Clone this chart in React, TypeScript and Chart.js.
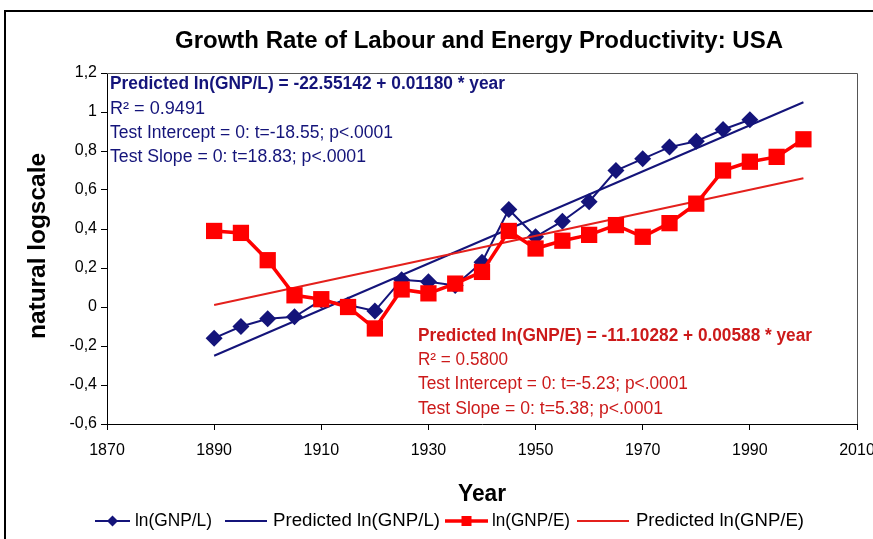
import React, { useEffect, useRef } from 'react';
import { Chart, registerables } from 'chart.js';

Chart.register(...registerables);

// ---- data ----
const laborYears = [1890, 1895, 1900, 1905, 1910, 1915, 1920, 1925, 1930, 1935, 1940, 1945, 1950, 1955, 1960, 1965, 1970, 1975, 1980, 1985, 1990];
const lnGnpL = [-0.16, -0.10, -0.06, -0.05, 0.035, 0.01, -0.02, 0.14, 0.13, 0.11, 0.23, 0.50, 0.36, 0.44, 0.54, 0.70, 0.76, 0.82, 0.85, 0.91, 0.96];
const energyYears = [1890, 1895, 1900, 1905, 1910, 1915, 1920, 1925, 1930, 1935, 1940, 1945, 1950, 1955, 1960, 1965, 1970, 1975, 1980, 1985, 1990, 1995, 2000];
const lnGnpE = [0.39, 0.38, 0.24, 0.06, 0.04, 0.0, -0.11, 0.09, 0.07, 0.12, 0.18, 0.39, 0.30, 0.34, 0.37, 0.42, 0.36, 0.43, 0.53, 0.70, 0.745, 0.77, 0.86];
const predYears = [1890, 2000];
const predL = [-0.25, 1.05];
const predE = [0.01, 0.66];

const seriesNames = ['ln(GNP/L)', 'Predicted ln(GNP/L)', 'ln(GNP/E)', 'Predicted ln(GNP/E)'];
const titleText = 'Growth Rate of Labour and Energy Productivity: USA';
const yTitle = 'natural logscale';
const xTitle = 'Year';
const blueNotes = [
  'Predicted ln(GNP/L) = -22.55142 + 0.01180 * year',
  'R² = 0.9491',
  'Test Intercept = 0: t=-18.55; p<.0001',
  'Test Slope = 0: t=18.83; p<.0001',
];
const redNotes = [
  'Predicted ln(GNP/E) = -11.10282 + 0.00588 * year',
  'R² = 0.5800',
  'Test Intercept = 0: t=-5.23; p<.0001',
  'Test Slope = 0: t=5.38; p<.0001',
];

const NAVY = '#14147a';
const RED = '#ff0000';
const RED_LINE = '#e4201c';
const RED_TEXT = '#cc1a1a';
const FONT = '"Liberation Sans", Arial, sans-serif';

function fillFit(ctx: CanvasRenderingContext2D, text: string, x: number, y: number, w: number, align: CanvasTextAlign) {
  const m = ctx.measureText(text).width;
  const s = m > 0 ? w / m : 1;
  ctx.save();
  ctx.translate(x, y);
  ctx.scale(s, 1);
  ctx.textAlign = align;
  ctx.fillText(text, 0, 0);
  ctx.restore();
}

const decorPlugin = {
  id: 'decor',
  afterDraw(chart: any) {
    const ctx: CanvasRenderingContext2D = chart.ctx;
    const a = chart.chartArea;
    ctx.save();
    // outer frame
    ctx.strokeStyle = '#000';
    ctx.lineWidth = 2;
    ctx.beginPath();
    ctx.moveTo(5, chart.height + 2);
    ctx.lineTo(5, 11);
    ctx.lineTo(chart.width + 2, 11);
    ctx.stroke();
    // plot box top/right
    ctx.strokeStyle = '#555';
    ctx.lineWidth = 1;
    ctx.beginPath();
    ctx.moveTo(a.left, a.top + 0.5);
    ctx.lineTo(a.right + 0.5, a.top + 0.5);
    ctx.lineTo(a.right + 0.5, a.bottom);
    ctx.stroke();

    ctx.textBaseline = 'middle';
    // title
    ctx.fillStyle = '#000';
    ctx.font = `bold 24px ${FONT}`;
    fillFit(ctx, titleText, 479, 41, 608, 'center');
    // axis titles
    ctx.font = `bold 23px ${FONT}`;
    fillFit(ctx, xTitle, 482, 495, 48, 'center');
    ctx.save();
    ctx.translate(39, 246);
    ctx.rotate(-Math.PI / 2);
    fillFit(ctx, yTitle, 0, 0, 186, 'center');
    ctx.restore();

    // annotations
    const blueW = [395, 95, 283, 256];
    const redW = [394, 90, 270, 245];
    const blueY = [84, 109, 133, 157];
    const redY = [336, 360, 384, 409];
    blueNotes.forEach((t, i) => {
      ctx.fillStyle = NAVY;
      ctx.font = i === 0 ? `bold 18px ${FONT}` : `18px ${FONT}`;
      fillFit(ctx, t, 110, blueY[i], blueW[i], 'left');
    });
    redNotes.forEach((t, i) => {
      ctx.fillStyle = RED_TEXT;
      ctx.font = i === 0 ? `bold 18px ${FONT}` : `18px ${FONT}`;
      fillFit(ctx, t, 418, redY[i], redW[i], 'left');
    });

    // legend
    const ly = 521;
    const items = [
      { l0: 95, l1: 130, tx: 135, tw: 77, color: NAVY, w: 2, marker: 'diamond' },
      { l0: 225, l1: 267, tx: 273, tw: 167, color: NAVY, w: 2, marker: '' },
      { l0: 445, l1: 488, tx: 492, tw: 78, color: RED, w: 3.5, marker: 'square' },
      { l0: 577, l1: 629, tx: 636, tw: 168, color: RED_LINE, w: 2, marker: '' },
    ];
    items.forEach((it, i) => {
      ctx.strokeStyle = it.color;
      ctx.lineWidth = it.w;
      ctx.beginPath();
      ctx.moveTo(it.l0, ly);
      ctx.lineTo(it.l1, ly);
      ctx.stroke();
      const cx = (it.l0 + it.l1) / 2;
      ctx.fillStyle = it.color;
      if (it.marker === 'diamond') {
        ctx.beginPath();
        ctx.moveTo(cx, ly - 5.5);
        ctx.lineTo(cx + 5.5, ly);
        ctx.lineTo(cx, ly + 5.5);
        ctx.lineTo(cx - 5.5, ly);
        ctx.closePath();
        ctx.fill();
      } else if (it.marker === 'square') {
        ctx.fillRect(cx - 5, ly - 5, 10, 10);
      }
      ctx.fillStyle = '#000';
      ctx.font = `18px ${FONT}`;
      fillFit(ctx, seriesNames[i], it.tx, ly, it.tw, 'left');
    });
    ctx.restore();
  },
};

export default function App() {
  const ref = useRef<HTMLCanvasElement>(null);
  useEffect(() => {
    if (!ref.current) return;
    const chart = new Chart(ref.current, {
      type: 'line',
      data: {
        datasets: [
          {
            label: seriesNames[0],
            data: laborYears.map((x, i) => ({ x, y: lnGnpL[i] })),
            borderColor: NAVY,
            backgroundColor: NAVY,
            borderWidth: 2,
            pointStyle: 'rectRot',
            pointRadius: 8.5,
            pointBorderWidth: 0,
            order: 3,
          },
          {
            label: seriesNames[1],
            data: predYears.map((x, i) => ({ x, y: predL[i] })),
            borderColor: NAVY,
            borderWidth: 2,
            pointRadius: 0,
            order: 4,
          },
          {
            label: seriesNames[2],
            data: energyYears.map((x, i) => ({ x, y: lnGnpE[i] })),
            borderColor: RED,
            backgroundColor: RED,
            borderWidth: 3.5,
            pointStyle: 'rect',
            pointRadius: 11.5,
            pointBorderWidth: 0,
            order: 1,
          },
          {
            label: seriesNames[3],
            data: predYears.map((x, i) => ({ x, y: predE[i] })),
            borderColor: RED_LINE,
            borderWidth: 2,
            pointRadius: 0,
            order: 2,
          },
        ],
      },
      options: {
        animation: false,
        responsive: false,
        maintainAspectRatio: false,
        layout: { padding: { left: 0, top: 73, right: 16, bottom: 0 } },
        plugins: { legend: { display: false }, title: { display: false }, tooltip: { enabled: false } },
        scales: {
          x: {
            type: 'linear',
            min: 1870,
            max: 2010,
            ticks: {
              stepSize: 20,
              color: '#000',
              padding: 11,
              font: { family: FONT, size: 16 },
              callback: (v: any) => String(v),
            },
            grid: { display: true, drawOnChartArea: false, drawTicks: true, tickLength: 6, color: '#000' },
            border: { display: true, color: '#000' },
            afterFit: (s: any) => {
              s.height = 539 - 424;
              s.paddingLeft = 0;
              s.paddingRight = 0;
            },
          },
          y: {
            type: 'linear',
            min: -0.6,
            max: 1.2,
            ticks: {
              stepSize: 0.2,
              color: '#000',
              padding: 4,
              font: { family: FONT, size: 16 },
              callback: (v: any) => String(Math.round(Number(v) * 10) / 10).replace('.', ','),
            },
            grid: { display: true, drawOnChartArea: false, drawTicks: true, tickLength: 6, color: '#000' },
            border: { display: true, color: '#000' },
            afterFit: (s: any) => {
              s.width = 107;
              s.paddingTop = 0;
              s.paddingBottom = 0;
            },
          },
        },
      },
      plugins: [decorPlugin],
    } as any);
    return () => chart.destroy();
  }, []);
  return (
    <div style={{ position: 'fixed', left: 0, top: 0, width: 873, height: 539, background: '#fff' }}>
      <canvas ref={ref} width={873} height={539} style={{ width: 873, height: 539, display: 'block' }} />
    </div>
  );
}
